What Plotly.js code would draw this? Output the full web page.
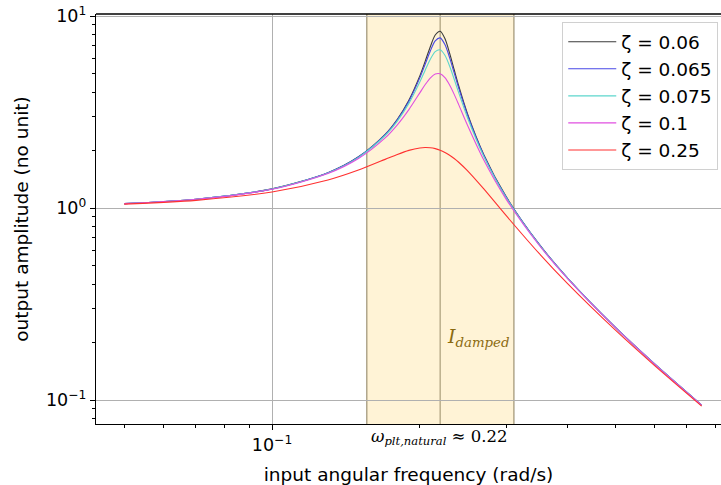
<!DOCTYPE html>
<html><head><meta charset="utf-8">
<script src="https://cdn.plot.ly/plotly-3.0.1.min.js"></script>
<style>body{margin:0;background:#fff}</style></head>
<body><div id="chart" style="width:721px;height:485px"></div>
<script>
// input angular frequency (rad/s)
const freq = [0.05, 0.07, 0.1, 0.13, 0.15, 0.17, 0.18, 0.19, 0.20, 0.205, 0.21, 0.215, 0.22, 0.225, 0.23, 0.235, 0.24, 0.25, 0.27, 0.3, 0.35, 0.4, 0.5, 0.6, 0.75];
// output amplitude per damping ratio
const amp006  = [1.054, 1.1116, 1.2574, 1.5275, 1.8473, 2.4188, 2.8998, 3.6437, 4.8783, 5.788, 6.8984, 7.962, 8.3333, 7.6306, 6.4038, 5.2475, 4.3328, 3.1088, 1.8968, 1.1429, 0.64815, 0.43176, 0.23957, 0.15513, 0.094075];
const amp0065 = [1.054, 1.1115, 1.2569, 1.5259, 1.8436, 2.4084, 2.8797, 3.5994, 4.7626, 5.5884, 6.5523, 7.4205, 7.6923, 7.1085, 6.0728, 5.0528, 4.2167, 3.0615, 1.8841, 1.1395, 0.64729, 0.43143, 0.23948, 0.15509, 0.094063];
const amp0075 = [1.0538, 1.1111, 1.2558, 1.5224, 1.8355, 2.3853, 2.8359, 3.5058, 4.5307, 5.207, 5.9345, 6.522, 6.6667, 6.2442, 5.4851, 4.6851, 3.9871, 2.9627, 1.8565, 1.1319, 0.64538, 0.43069, 0.23928, 0.15502, 0.094036];
const amp01   = [1.0533, 1.1099, 1.2522, 1.5118, 1.8109, 2.3174, 2.711, 3.2544, 3.9785, 4.382, 4.749, 4.9863, 5.0, 4.7699, 4.37, 3.9066, 3.4558, 2.7064, 1.7776, 1.109, 0.63951, 0.4284, 0.23866, 0.15477, 0.093951];
const amp025  = [1.047, 1.0956, 1.2117, 1.3991, 1.5761, 1.7914, 1.9013, 1.9958, 2.0553, 2.0654, 2.0599, 2.0379, 2.0, 1.9477, 1.8835, 1.8103, 1.7312, 1.5661, 1.2571, 0.9115, 0.57961, 0.40346, 0.23161, 0.15196, 0.092956];
const seriesNames = ['ζ = 0.06', 'ζ = 0.065', 'ζ = 0.075', 'ζ = 0.1', 'ζ = 0.25'];
const seriesAmps = [amp006, amp0065, amp0075, amp01, amp025];
const seriesColors = ['#3a3a3a', '#4747e6', '#5cd6cc', '#e04fe0', '#ff3030'];
const naturalFreq = 0.22;
const bandLow = 0.156;
const bandHigh = 0.311;
const yTickVals = [0.1, 1, 10];
const yTickText = ['10<sup>−1</sup>', '10<sup>0</sup>', '10<sup>1</sup>'];
const xTickVals = [0.1];
const xTickText = ['10<sup>−1</sup>'];

const traces = seriesAmps.map((a, i) => ({
  x: freq, y: a, name: seriesNames[i], type: 'scatter', mode: 'lines',
  line: {color: seriesColors[i], width: 1.1, shape: 'spline', smoothing: 0.8}
}));

const xMinor = [0.05,0.06,0.07,0.08,0.09,0.2,0.3,0.4,0.5,0.6,0.7,0.8,0.9];
const yMinor = [0.08,0.09,0.2,0.3,0.4,0.5,0.6,0.7,0.8,0.9,2,3,4,5,6,7,8,9];

const layout = {
  width: 721, height: 485,
  margin: {l: 96, r: 0, t: 14, b: 61},
  paper_bgcolor: '#fff', plot_bgcolor: '#fff',
  font: {family: 'DejaVu Sans', size: 17, color: '#000'},
  showlegend: true,
  legend: {x: 0.746, y: 0.98, xanchor: 'left', yanchor: 'top', bgcolor: '#fff',
           bordercolor: '#d0d0d0', borderwidth: 1, font: {size: 18.5}, itemwidth: 48},
  xaxis: {type: 'log', range: [-1.3585, -0.0855], tickmode: 'array', tickvals: xTickVals, ticktext: xTickText,
          ticks: 'outside', ticklen: 5, tickcolor: '#000', showline: true, linecolor: '#000', linewidth: 1.2,
          showgrid: true, gridcolor: '#b0b0b0', gridwidth: 1, zeroline: false, tickfont: {size: 17.5},
          minor: {tickvals: xMinor, ticks: 'outside', ticklen: 3, tickcolor: '#000', showgrid: false},
          title: {text: 'input angular frequency (rad/s)', font: {size: 18.5}, standoff: 14}},
  yaxis: {type: 'log', range: [-1.125, 1.0104], tickmode: 'array', tickvals: yTickVals, ticktext: yTickText,
          ticks: 'outside', ticklen: 5, tickcolor: '#000', showline: true, linecolor: '#000', linewidth: 1.2,
          showgrid: true, gridcolor: '#b0b0b0', gridwidth: 1, zeroline: false, tickfont: {size: 17.5},
          minor: {tickvals: yMinor, ticks: 'outside', ticklen: 3, tickcolor: '#000', showgrid: false},
          title: {text: 'output amplitude (no unit)', font: {size: 18.5}, standoff: 12}},
  shapes: [
    {type: 'rect', xref: 'x', yref: 'paper', x0: bandLow, x1: bandHigh, y0: 0, y1: 1,
     fillcolor: '#fff3d6', line: {width: 0}, layer: 'below'},
    {type: 'line', xref: 'x', yref: 'paper', x0: bandLow, x1: bandLow, y0: 0, y1: 1,
     line: {color: '#8a7d5c', width: 1}, layer: 'between'},
    {type: 'line', xref: 'x', yref: 'paper', x0: bandHigh, x1: bandHigh, y0: 0, y1: 1,
     line: {color: '#8a7d5c', width: 1}, layer: 'between'},
    {type: 'line', xref: 'x', yref: 'paper', x0: naturalFreq, x1: naturalFreq, y0: 0, y1: 1,
     line: {color: '#9a8c68', width: 1}, layer: 'between'},
    {type: 'line', xref: 'paper', yref: 'paper', x0: 0, x1: 1, y0: 1, y1: 1,
     line: {color: '#000', width: 1.5}, layer: 'above'}
  ],
  annotations: [
    {x: Math.log10(0.263), y: Math.log10(0.212), xref: 'x', yref: 'y', showarrow: false,
     text: '<i>I</i><sub><i>damped</i></sub>', font: {family: 'DejaVu Serif', size: 19, color: '#8b6a10'}},
    {x: Math.log10(0.2185), y: 0, xref: 'x', yref: 'paper', yanchor: 'top', yshift: -1, showarrow: false,
     text: '<i>ω</i><sub><i>plt,natural</i></sub> ≈ 0.22', font: {family: 'DejaVu Serif', size: 16.5, color: '#000'}}
  ]
};

Plotly.newPlot('chart', traces, layout, {displayModeBar: false, staticPlot: true});
</script>
</body></html>
